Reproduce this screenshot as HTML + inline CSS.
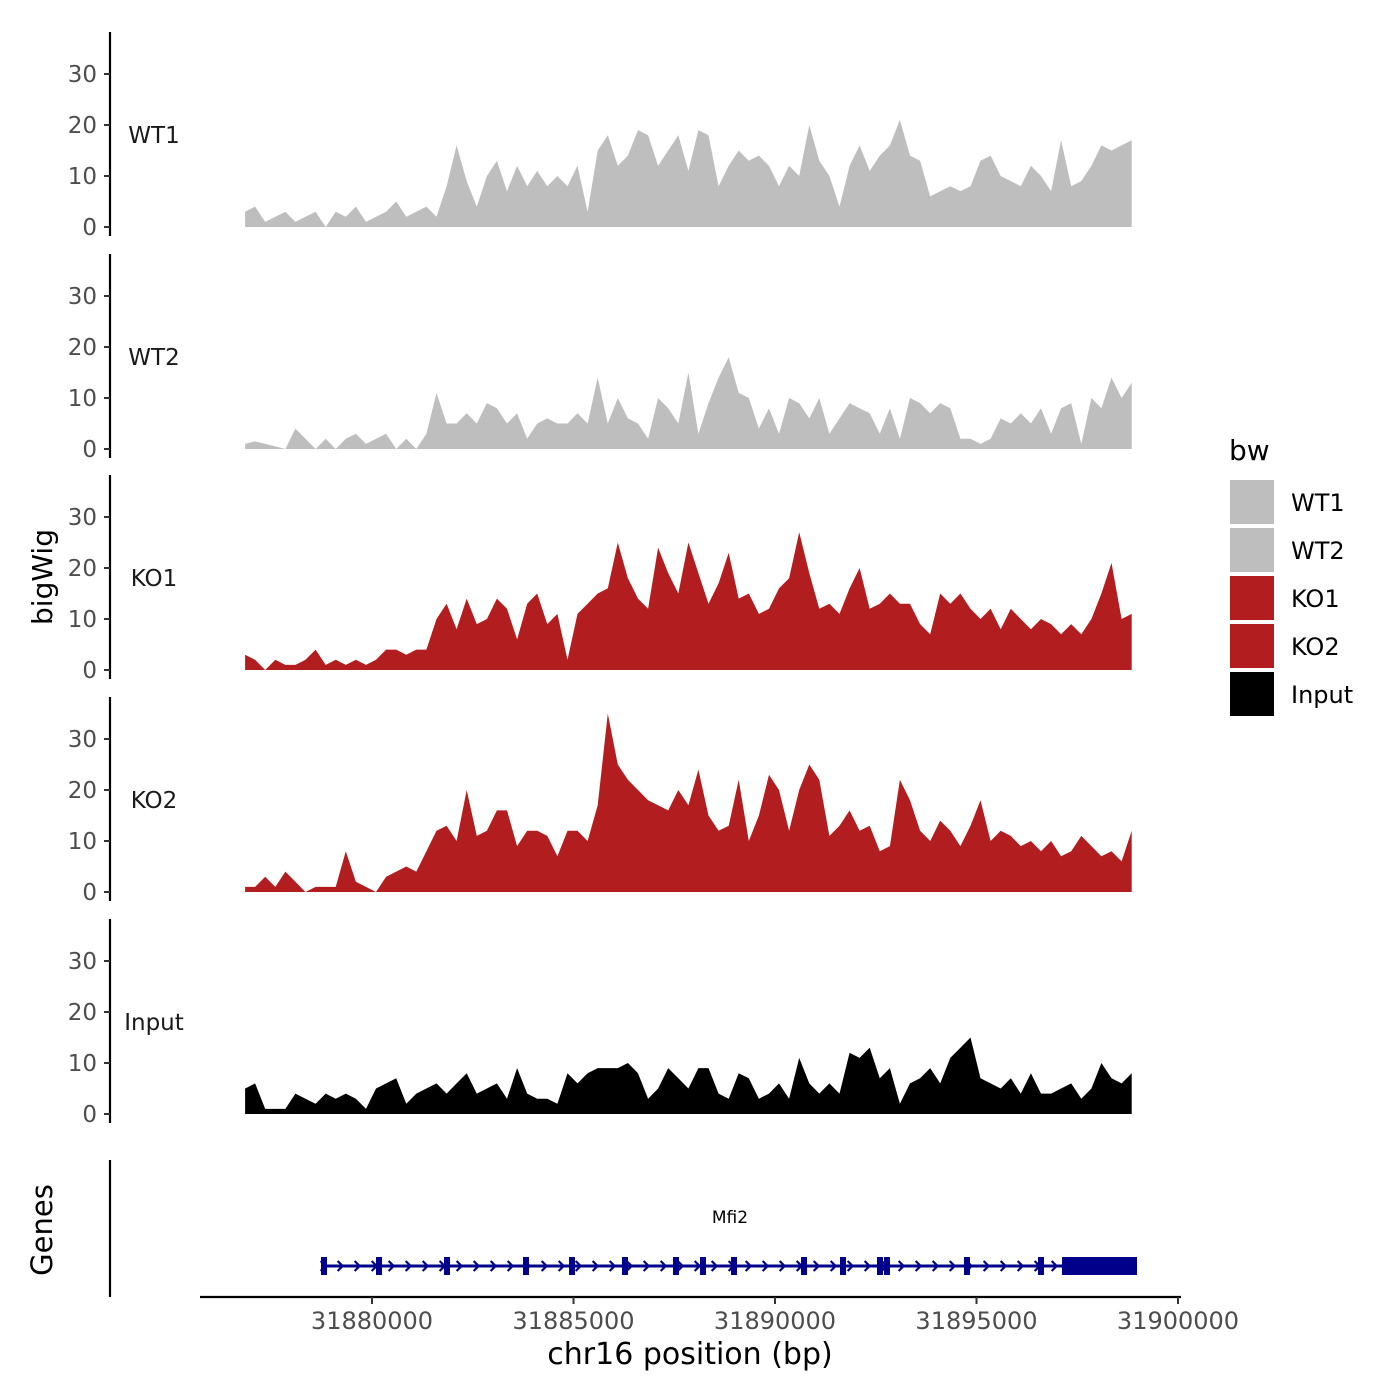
<!DOCTYPE html>
<html><head><meta charset="utf-8"><style>
body{margin:0;background:#fff}
svg{display:block;font-family:"DejaVu Sans","Liberation Sans",sans-serif}
</style></head><body>
<svg id="chart" width="1400" height="1400" viewBox="0 0 1400 1400" xmlns="http://www.w3.org/2000/svg">
<rect width="1400" height="1400" fill="#fff"/>
<g id="tracks"></g>
<g id="genes"></g>
<g id="xaxis"></g>
<text x="0" y="0" transform="translate(52,577) rotate(-90)" text-anchor="middle" font-size="28" fill="#000">bigWig</text>
<text x="0" y="0" transform="translate(52,1230) rotate(-90)" text-anchor="middle" font-size="29" fill="#000">Genes</text>
<text x="690" y="1364" text-anchor="middle" font-size="30" fill="#000">chr16 position (bp)</text>
<g id="legend"></g>
</svg>
<script>
const trackNames = ["WT1","WT2","KO1","KO2","Input"];
const trackColors = ["#bebebe","#bebebe","#b21e20","#b21e20","#000000"];
const startBp = 31876850;
const stepBp = 250;
const wt1 = [3,4,1,2,3,1,2,3,0,3,2,4,1,2,3,5,2,3,4,2,8,16,9,4,10,13,7,12,8,11,8,10,8,12,3,15,18,12,14,19,18,12,15,18,11,19,18,8,12,15,13,14,12,8,12,10,20,13,10,4,12,16,11,14,16,21,14,13,6,7,8,7,8,13,14,10,9,8,12,10,7,17,8,9,12,16,15,16,17];
const wt2 = [1,1.5,1,0.5,0,4,2,0,2,0,2,3,1,2,3,0,2,0,3,11,5,5,7,5,9,8,5,7,2,5,6,5,5,7,5,14,5,10,6,5,2,10,8,5,15,3,9,14,18,11,10,4,8,3,10,9,6,10,3,6,9,8,7,3,8,2,10,9,7,9,8,2,2,1,2,6,5,7,5,8,3,8,9,1,10,8,14,10,13];
const ko1 = [3,2,0,2,1,1,2,4,1,2,1,2,1,2,4,4,3,4,4,10,13,8,14,9,10,14,12,6,13,15,9,11,2,11,13,15,16,25,18,14,12,24,19,15,25,19,13,17,23,14,15,11,12,16,18,27,19,12,13,11,16,20,12,13,15,13,13,9,7,15,13,15,12,10,12,8,12,10,8,10,9,7,9,7,10,15,21,10,11];
const ko2 = [1,1,3,1,4,2,0,1,1,1,8,2,1,0,3,4,5,4,8,12,13,10,20,11,12,16,16,9,12,12,11,7,12,12,10,17,35,25,22,20,18,17,16,20,17,24,15,12,13,22,10,15,23,20,12,20,25,22,11,13,16,12,13,8,9,22,18,12,10,14,12,9,13,18,10,12,11,9,10,8,10,7,8,11,9,7,8,6,12];
const input = [5,6,1,1,1,4,3,2,4,3,4,3,1,5,6,7,2,4,5,6,4,6,8,4,5,6,3,9,4,3,3,2,8,6,8,9,9,9,10,8,3,5,9,7,5,9,9,4,3,8,7,3,4,6,3,11,6,4,6,4,12,11,13,7,9,2,6,7,9,6,11,13,15,7,6,5,7,4,8,4,4,5,6,3,5,10,7,6,8];
const trackData = [wt1,wt2,ko1,ko2,input];
const yTicks = [0,10,20,30];
const xTicks = [31880000,31885000,31890000,31895000,31900000];
const xTickLabels = ["31880000","31885000","31890000","31895000","31900000"];
const exonStarts = [31878809,31880174,31881861,31883821,31884963,31886278,31887543,31888213,31888983,31890720,31891687,31892605,31892779,31894764,31896600];
const utrStart = 31897122, utrEnd = 31898983;
const geneStart = 31878750, geneEnd = 31898983;
const legendLabels = ["WT1","WT2","KO1","KO2","Input"];
const legendColors = ["#bebebe","#bebebe","#b21e20","#b21e20","#000000"];

const NS="http://www.w3.org/2000/svg";
function mk(tag, attrs, parent){const e=document.createElementNS(NS,tag);for(const k in attrs)e.setAttribute(k,attrs[k]);parent.appendChild(e);return e;}
const xScale = bp => 372 + (bp-31880000)*0.0403;
const panelZero = [227,449,670,892,1114];
const yScale = (p,v) => panelZero[p] - v*5.1;

const tracks=document.getElementById('tracks');
for(let p=0;p<5;p++){
  const g=mk('g',{},tracks);
  
  
  const z=panelZero[p];
  const ax=mk('line',{x1:110,x2:110,y1:z-195,y2:z+9,stroke:'#000','stroke-width':2.2},g);
  
  
  for(const t of yTicks){
    const y=yScale(p,t);
    const tk=mk('line',{x1:104,x2:110,y1:y,y2:y,stroke:'#333','stroke-width':2},g);
    
    
    const tl=mk('text',{x:97,y:y+8,'text-anchor':'end','font-size':23,fill:'#4d4d4d'},g);
    tl.textContent=t;
    
    
  }
  const lab=mk('text',{x:154,y:z-84,'text-anchor':'middle','font-size':23,fill:'#1a1a1a'},g);
  lab.textContent=trackNames[p];
  
  
  const d=trackData[p];
  let path='M'+xScale(startBp).toFixed(1)+','+z;
  d.forEach((v,i)=>{path+=' L'+xScale(startBp+i*stepBp).toFixed(1)+','+yScale(p,v).toFixed(1);});
  path+=' L'+xScale(startBp+(d.length-1)*stepBp).toFixed(1)+','+z+' Z';
  const area=mk('path',{d:path,fill:trackColors[p]},g);
  
  
}

const genes=document.getElementById('genes');
const ga=mk('line',{x1:110,x2:110,y1:1160,y2:1297,stroke:'#000','stroke-width':2.2},genes);


const gy=1266;
const gl=mk('line',{x1:xScale(geneStart),x2:xScale(geneEnd),y1:gy,y2:gy,stroke:'#00008b','stroke-width':3},genes);


for(let x=xScale(geneStart)+2;x<xScale(utrStart)-4;x+=17){
  const a=mk('path',{d:`M${x-3},${gy-5} L${x+2},${gy} L${x-3},${gy+5}`,fill:'none',stroke:'#00008b','stroke-width':2.2},genes);
  
  
}
for(const s of exonStarts){
  const x=xScale(s);
  const r=mk('rect',{x:x-3,y:gy-9,width:6,height:18,fill:'#00008b'},genes);
  
  
}
const u=mk('rect',{x:xScale(utrStart),y:gy-9,width:xScale(utrEnd)-xScale(utrStart),height:18,fill:'#00008b'},genes);


const gn=mk('text',{x:730,y:1223,'text-anchor':'middle','font-size':17,fill:'#000'},genes);
gn.textContent='Mfi2';



const xa=document.getElementById('xaxis');
const xl=mk('line',{x1:200,x2:1181,y1:1297,y2:1297,stroke:'#000','stroke-width':2.2},xa);


xTicks.forEach((t,i)=>{
  const x=xScale(t);
  const tk=mk('line',{x1:x,x2:x,y1:1297,y2:1304,stroke:'#333','stroke-width':2},xa);
  
  
  const tl=mk('text',{x:x,y:1329,'text-anchor':'middle','font-size':24,fill:'#4d4d4d'},xa);
  tl.textContent=xTickLabels[i];
  
  
});

const lg=document.getElementById('legend');
const lt=mk('text',{x:1229,y:460,'font-size':28,fill:'#000'},lg);
lt.textContent='bw';


legendLabels.forEach((l,i)=>{
  const y=480+i*48;
  const g=mk('g',{},lg);
  
  
  const r=mk('rect',{x:1230,y:y,width:44,height:44,fill:legendColors[i]},g);
  
  
  const t=mk('text',{x:1291,y:y+31,'font-size':24,fill:'#000'},g);
  t.textContent=l;
  
  
});
</script>
</body></html>
